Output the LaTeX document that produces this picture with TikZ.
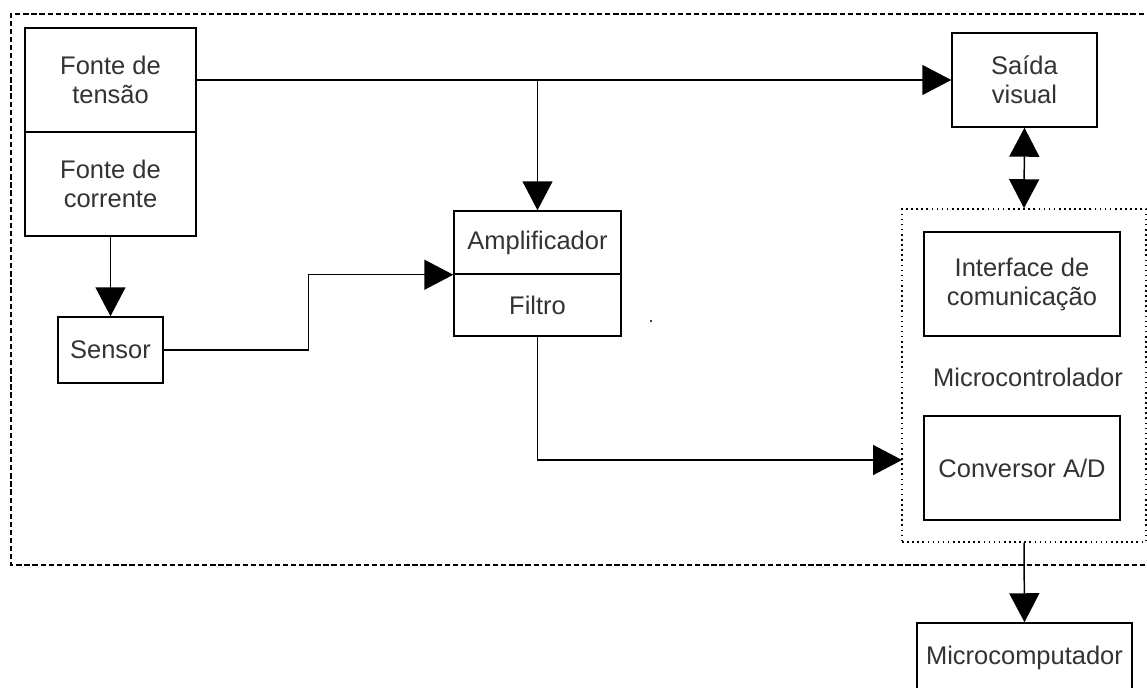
\documentclass[tikz,border=0pt]{standalone}
\usepackage{fontspec}
\setmainfont{Liberation Sans}
\usetikzlibrary{arrows.meta,positioning}

\begin{document}
\begin{tikzpicture}[
  x=0.02cm, y=-0.02cm,
  line width=0.85pt,
  blk/.style={
    rectangle, draw, fill=white, inner sep=2pt,
    align=center, text=black!80,
    font=\fontsize{14.5}{16.5}\selectfont},
  grp/.style={
    rectangle, draw, dotted, line width=0.9pt, inner sep=0pt},
  lbl/.style={text=black!80, font=\fontsize{14.5}{16.5}\selectfont},
  arr/.style={-{Triangle[length=0.58cm, width=0.6cm]}},
  dbl/.style={{Triangle[length=0.58cm, width=0.6cm]}-{Triangle[length=0.58cm, width=0.6cm]}},
]
\useasboundingbox (0,0) rectangle (1147,688);

%% ---- Outer frame ----
\draw[dash pattern=on 3pt off 1.6pt] (1160,14) -- (11,14) -- (11,565) -- (1160,565);

%% ---- Nodes ----
\node[blk, minimum width=3.42cm, minimum height=2.08cm] (fonteV) at (110.5, 80)  {Fonte de\\tensão};
\node[blk, minimum width=3.42cm, minimum height=2.08cm] (fonteI) at (110.5, 184) {Fonte de\\corrente};

\node[blk, minimum width=2.1cm,  minimum height=1.32cm] (sensor) at (110.5, 350) {Sensor};

\node[blk, minimum width=3.34cm, minimum height=1.26cm] (amp)    at (537.5, 242.5) {Amplificador};
\node[blk, minimum width=3.34cm, minimum height=1.24cm] (filtro) at (537.5, 305)   {Filtro};

\node[blk, minimum width=2.9cm,  minimum height=1.88cm] (saida)  at (1024.5, 80) {Saída\\visual};

\node[grp, minimum width=4.88cm, minimum height=6.66cm] (micro)  at (1024, 375.5) {};
\node[blk, minimum width=3.92cm, minimum height=2.08cm] (iface)  at (1022, 284) {Interface de\\comunicação};
\node[lbl]                                              (mcname) at (1028, 377) {Microcontrolador};
\node[blk, minimum width=3.92cm, minimum height=2.08cm] (conv)   at (1022, 468) {Conversor A/D};

\node[blk, minimum width=4.3cm,  minimum height=1.4cm]  (mcomp)  at (1024.5, 658) {Microcomputador};

\coordinate (adIn) at (902, 460);
\fill (651,321) circle (0.6pt);

%% ---- Connectors ----
\draw[arr] (fonteV.east) -- (saida.west);
\draw[arr] (fonteV.east -| amp.north) -- (amp.north);
\draw[arr] (fonteI.south) -- (sensor.north);
\draw[arr] (sensor.east) -- ++(145,0) |- (amp.south west);
\draw[arr] (filtro.south) |- (adIn);
\draw[dbl] (saida.south) -- (micro.north);
\draw[arr] (micro.south) -- (mcomp.north);

\end{tikzpicture}
\end{document}
